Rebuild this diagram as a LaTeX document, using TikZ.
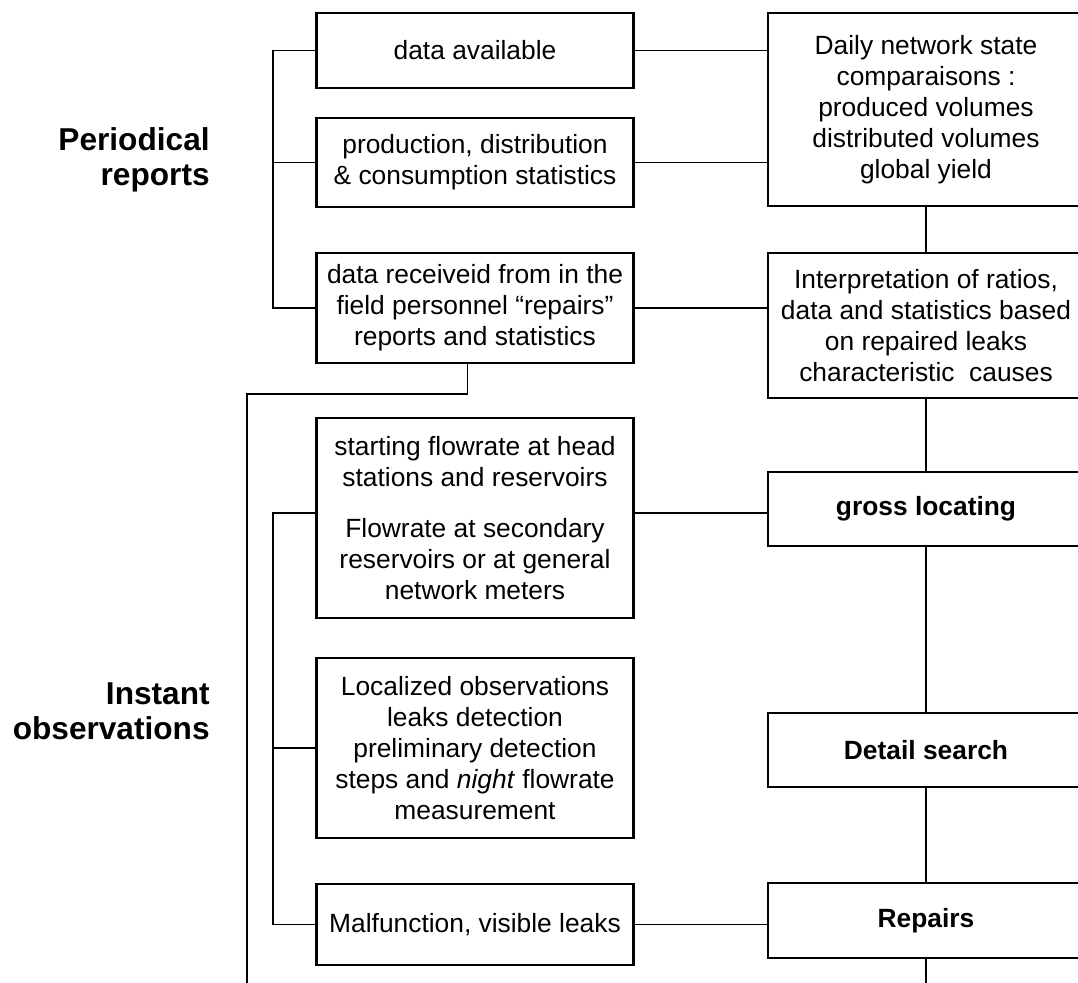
\documentclass[tikz,border=0pt]{standalone}
\usepackage{fontspec}
\setmainfont{Liberation Sans}
\setsansfont{Liberation Sans}
\usetikzlibrary{calc,positioning}
\tikzset{
  font=\sffamily,
  link/.style={draw=black, line width=1.1pt},
  sourceBox/.style={rectangle, draw=black, line width=1.3pt, fill=white, minimum width=6.34cm, align=center, inner sep=2pt, font=\fontsize{15}{17.6}\selectfont},
  stageBox/.style={rectangle, draw=black, line width=1.3pt, fill=white, minimum width=6.32cm, align=center, inner sep=2pt, font=\fontsize{15}{17.6}\selectfont},
  stageTitle/.style={stageBox, font=\fontsize{15}{17.6}\selectfont\bfseries},
  sideLabel/.style={anchor=east, align=right, inner sep=0pt, font=\fontsize{18}{20}\selectfont\bfseries}
}

\begin{document}
\begin{tikzpicture}[x=1cm,y=1cm]
\useasboundingbox (0,0) rectangle (21.56,19.66);
\clip (0,0) rectangle (21.56,19.66);

% --------------------------------------------------------------------------
% Left column: sources of information
% --------------------------------------------------------------------------
\node[sideLabel] (periodical) at (4.2,16.46) {Periodical\\reports};
\node[sideLabel] (instant) at (4.2,5.44) {Instant\\observations};

\node[sourceBox, minimum height=1.5cm] (dataAvail) at (9.5,18.65) {data available};
\node[sourceBox, minimum height=1.78cm] (prodStats) at (9.5,16.41) {production, distribution\\\& consumption statistics};
\node[sourceBox, minimum height=2.2cm] (fieldData) at (9.5,13.5) {data receiveid from in the\\field personnel “repairs”\\reports and statistics};
\node[sourceBox, minimum height=4.0cm] (flowRates) at (9.5,9.3) {starting flowrate at head\\stations and reservoirs\\[0.4cm]Flowrate at secondary\\reservoirs or at general\\network meters};
\node[sourceBox, minimum height=3.6cm] (localObs) at (9.5,4.7) {Localized observations\\leaks detection\\preliminary detection\\steps and \textit{night} flowrate\\measurement};
\node[sourceBox, minimum height=1.62cm] (visLeaks) at (9.5,1.17) {Malfunction, visible leaks};

\draw[link] (dataAvail.west) -- ++(-0.84,0) |- (fieldData.west);
\draw[link] (prodStats.west) -- ++(-0.84,0);
\draw[link] ([yshift=0.1cm]flowRates.west) -- ++(-0.84,0) |- (visLeaks.west);
\draw[link] (localObs.west) -- ++(-0.84,0);

% --------------------------------------------------------------------------
% Right column: analysis and action steps
% --------------------------------------------------------------------------
\node[stageBox, minimum height=3.86cm] (dailyState) at (18.52,17.47) {Daily network state\\comparaisons :\\produced volumes\\distributed volumes\\global yield};
\node[stageBox, minimum height=2.9cm] (ratios) at (18.52,13.15) {Interpretation of ratios,\\data and statistics based\\on repaired leaks\\characteristic\ \ causes};
\node[stageTitle, minimum height=1.48cm] (grossLoc) at (18.52,9.48) {gross locating};
\node[stageTitle, minimum height=1.48cm] (detailSearch) at (18.52,4.66) {Detail search};
\node[stageTitle, minimum height=1.5cm] (repairs) at (18.52,1.25) {Repairs};
\coordinate (repairsOut) at (18.52,-0.1);

\draw[link] (dailyState.south) -- (ratios.north);
\draw[link] (ratios.south) -- (grossLoc.north);
\draw[link] (grossLoc.south) -- (detailSearch.north);
\draw[link] (detailSearch.south) -- (repairs.north);
\draw[link] (repairs.south) -- (repairsOut);

% links across
\draw[link] (dataAvail.east) -- (dataAvail.east -| dailyState.west);
\draw[link] (prodStats.east) -- (prodStats.east -| dailyState.west);
\draw[link] (fieldData.east) -- (fieldData.east -| ratios.west);
\draw[link] ([yshift=0.1cm]flowRates.east) -- ([yshift=0.1cm]flowRates.east -| grossLoc.west);
\draw[link] (visLeaks.east) -- (visLeaks.east -| repairs.west);

% repairs reports fed back down
\coordinate (fieldDrop) at ($(fieldData.south)+(-0.15,-0.6)$);
\coordinate (repairFeed) at (4.94,-0.1);
\draw[link] ([xshift=-0.15cm]fieldData.south) -- (fieldDrop) -| (repairFeed);

\end{tikzpicture}
\end{document}
